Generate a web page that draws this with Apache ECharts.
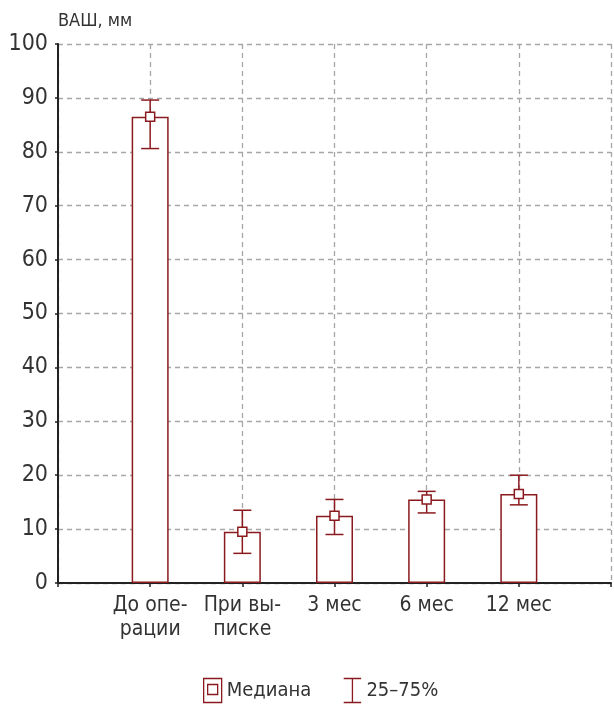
<!DOCTYPE html>
<html>
<head>
<meta charset="utf-8">
<script src="https://cdn.jsdelivr.net/npm/echarts@6/dist/echarts.min.js"></script>
<style>
  html, body { margin: 0; padding: 0; background: #fff; }
  #chart { width: 614px; height: 704px; }
</style>
</head>
<body>
<div id="chart"></div>
<script>
// Pain score (VAS, mm): median with interquartile range at each time point
const categories = ['До опе-\nрации', 'При вы-\nписке', '3 мес', '6 мес', '12 мес'];
const median = [86.5, 9.5, 12.5, 15.5, 16.5];
const q25 = [80.6, 5.5, 9.0, 13.0, 14.5];
const q75 = [89.6, 13.5, 15.5, 17.0, 20.0];
const yTicks = [0, 10, 20, 30, 40, 50, 60, 70, 80, 90, 100];

const RED = '#8b1a1f';
const FONT = '"Liberation Sans Narrow", "DejaVu Sans Condensed", "Roboto", sans-serif';

// empty slots on both ends so the category ticks sit between the axes
const axisCats = [''].concat(categories, ['']);
const pad = v => ['-'].concat(v, ['-']);

const errData = categories.map((c, i) => [i + 1, q25[i], q75[i]]);

const chart = echarts.init(document.getElementById('chart'), null, { renderer: 'canvas' });

chart.setOption({
  animation: false,
  backgroundColor: '#fff',
  textStyle: { fontFamily: FONT },
  grid: { left: 58, top: 44, right: -2, bottom: 121, containLabel: false },
  legend: {
    left: 198,
    top: 671,
    itemGap: 30,
    itemWidth: 18,
    itemHeight: 24,
    textStyle: { fontFamily: FONT, fontSize: 20, color: '#333' },
    data: [
      {
        name: 'Медиана',
        icon: 'path://M0,0 H18 V24 H0 Z M4,6 H14 V16 H4 Z',
        itemStyle: { color: '#fff', borderColor: RED, borderWidth: 1.3 }
      },
      {
        name: '25–75%',
        icon: 'path://M0,0 H16 M8,0 V22 M0,22 H16',
        itemStyle: { color: 'none', borderColor: RED, borderWidth: 1.3 }
      }
    ]
  },
  xAxis: {
    type: 'category',
    data: axisCats,
    boundaryGap: false,
    axisLine: { lineStyle: { color: '#222', width: 2 } },
    axisTick: { show: true, length: 4, lineStyle: { color: '#222', width: 1.5 } },
    axisLabel: {
      interval: 0,
      margin: 11,
      fontFamily: FONT,
      fontSize: 21,
      color: '#333',
      lineHeight: 24
    },
    splitLine: {
      show: true,
      lineStyle: { color: '#a6a6a6', type: [5, 4], width: 1.3 }
    }
  },
  yAxis: {
    type: 'value',
    min: 0,
    max: 100,
    interval: 10,
    name: 'ВАШ, мм',
    nameLocation: 'end',
    nameGap: 14,
    nameTextStyle: { fontFamily: FONT, fontSize: 18, color: '#333', align: 'left' },
    axisLine: { show: true, lineStyle: { color: '#222', width: 2 } },
    axisTick: { show: true, length: 3, lineStyle: { color: '#222', width: 1.5 } },
    axisLabel: {
      margin: 10,
      fontFamily: FONT,
      fontSize: 23,
      color: '#333',
      formatter: v => (yTicks.indexOf(v) >= 0 ? String(v) : '')
    },
    splitLine: {
      show: true,
      lineStyle: { color: '#a6a6a6', type: [5, 4], width: 1.3 }
    }
  },
  series: [
    {
      name: 'Медиана',
      type: 'bar',
      data: pad(median),
      barWidth: 37,
      itemStyle: { color: '#fff', borderColor: RED, borderWidth: 1.5 },
      z: 2
    },
    {
      name: '25–75%',
      type: 'custom',
      data: errData,
      z: 3,
      encode: { x: 0, y: [1, 2] },
      renderItem: function (params, api) {
        const x = api.value(0);
        const lo = api.coord([x, api.value(1)]);
        const hi = api.coord([x, api.value(2)]);
        const half = 9;
        const style = { stroke: RED, lineWidth: 1.5, fill: null };
        return {
          type: 'group',
          children: [
            { type: 'line', shape: { x1: lo[0], y1: lo[1], x2: hi[0], y2: hi[1] }, style: style },
            { type: 'line', shape: { x1: lo[0] - half, y1: lo[1], x2: lo[0] + half, y2: lo[1] }, style: style },
            { type: 'line', shape: { x1: hi[0] - half, y1: hi[1], x2: hi[0] + half, y2: hi[1] }, style: style }
          ]
        };
      }
    },
    {
      name: 'Медиана точка',
      type: 'scatter',
      data: pad(median),
      symbol: 'rect',
      symbolSize: 9,
      itemStyle: { color: '#fff', borderColor: RED, borderWidth: 1.5, opacity: 1 },
      z: 4
    }
  ]
});
</script>
</body>
</html>
